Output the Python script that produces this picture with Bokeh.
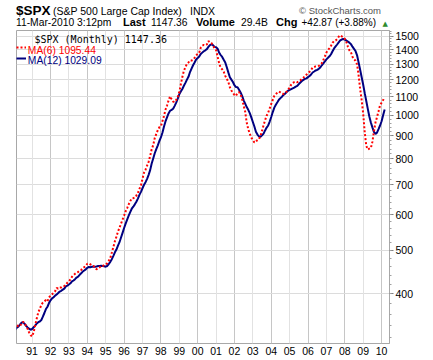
from bokeh.plotting import figure
from bokeh.layouts import column
from bokeh.models import (Range1d, FixedTicker, Grid, Label, Legend, LegendItem,
                          NumeralTickFormatter, Div)
from bokeh.embed import file_html
from bokeh.resources import INLINE

# ---- data: S&P 500 monthly moving averages, Jan 1990 .. Mar 2010 ----
start_year = 1990
ma6 = [
    344.9, 341.7, 340.1, 338.5, 341.1, 341.8, 346.3, 344.8, 339.2, 334.7, 328.2, 323.6,
    321.5, 328.9, 340.4, 352.3, 363.6, 370.4, 377.7, 382.5, 384.6, 387.4, 385.0, 392.7,
    396.2, 399.0, 401.7, 405.4, 412.1, 410.6, 413.2, 413.4, 415.8, 416.4, 419.0, 423.6,
    426.1, 431.0, 436.6, 440.2, 443.3, 445.9, 447.4, 450.8, 452.0, 456.6, 458.5, 461.1,
    466.7, 467.3, 465.1, 462.3, 461.4, 457.7, 453.8, 455.2, 458.0, 461.6, 461.2, 463.7,
    465.7, 467.7, 474.0, 481.0, 494.3, 508.6, 523.9, 536.3, 550.2, 561.4, 573.4, 585.2,
    597.5, 610.6, 620.8, 632.9, 643.5, 652.6, 653.3, 655.2, 662.2, 670.7, 685.4, 697.1,
    721.4, 744.6, 756.2, 772.2, 787.4, 811.5, 839.5, 857.6, 889.3, 908.2, 926.0, 940.3,
    944.6, 969.6, 995.3, 1028.2, 1050.7, 1078.0, 1101.4, 1086.0, 1071.9, 1069.7, 1081.9, 1097.8,
    1124.2, 1171.1, 1216.0, 1255.4, 1278.4, 1302.3, 1310.5, 1324.2, 1323.6, 1328.2, 1342.7, 1358.8,
    1369.8, 1377.5, 1413.5, 1428.4, 1433.6, 1431.2, 1437.2, 1462.5, 1452.1, 1448.3, 1430.7, 1408.3,
    1397.5, 1351.2, 1305.2, 1275.2, 1265.3, 1249.3, 1223.5, 1205.8, 1185.9, 1154.3, 1134.9, 1122.2,
    1108.7, 1104.2, 1122.0, 1124.8, 1112.7, 1086.4, 1049.9, 1018.2, 962.8, 931.0, 909.2, 890.8,
    881.5, 869.0, 874.5, 879.7, 884.2, 900.0, 922.5, 950.3, 974.9, 997.2, 1013.0, 1035.9,
    1059.3, 1082.1, 1103.8, 1113.3, 1123.7, 1128.5, 1123.6, 1116.8, 1114.9, 1118.7, 1127.6, 1139.4,
    1152.7, 1169.2, 1180.2, 1184.7, 1187.6, 1184.2, 1193.0, 1195.8, 1203.8, 1212.2, 1221.9, 1231.4,
    1239.0, 1249.1, 1260.1, 1277.3, 1280.8, 1284.4, 1283.9, 1287.7, 1294.6, 1305.8, 1327.5, 1352.2,
    1379.1, 1396.3, 1410.5, 1427.9, 1449.5, 1463.7, 1466.6, 1477.8, 1495.4, 1506.6, 1498.3, 1492.5,
    1479.7, 1455.8, 1421.8, 1394.5, 1381.1, 1349.7, 1331.1, 1323.2, 1297.1, 1227.6, 1143.6, 1080.8,
    1007.2, 916.0, 854.5, 838.5, 842.4, 845.0, 872.0, 919.5, 962.7, 990.0, 1019.4, 1052.0,
    1066.4, 1080.4, 1095.5,
]
ma12 = [
    329.0, 332.6, 336.3, 338.1, 341.5, 344.8, 345.6, 343.2, 339.6, 336.6, 334.6, 332.7,
    333.9, 336.9, 339.8, 343.5, 345.9, 347.0, 349.6, 355.7, 362.5, 369.9, 374.3, 381.5,
    386.9, 390.7, 393.1, 396.4, 398.6, 401.6, 404.7, 406.2, 408.7, 410.9, 415.6, 417.1,
    419.6, 422.2, 426.2, 428.3, 431.2, 434.8, 436.8, 440.9, 444.3, 448.4, 450.9, 453.5,
    457.1, 459.0, 458.6, 459.4, 460.0, 459.4, 460.3, 461.3, 461.6, 462.0, 461.3, 460.7,
    459.7, 461.4, 466.0, 471.3, 477.7, 486.1, 494.8, 502.0, 512.1, 521.2, 533.8, 546.9,
    560.7, 573.4, 585.5, 597.1, 608.4, 618.9, 625.4, 632.9, 641.5, 651.8, 664.4, 674.8,
    687.4, 699.9, 709.2, 721.5, 736.4, 754.3, 780.5, 801.1, 822.7, 840.2, 856.7, 875.9,
    892.0, 913.6, 942.3, 968.2, 988.4, 1009.1, 1023.0, 1027.8, 1033.6, 1048.9, 1066.3, 1087.9,
    1112.8, 1128.6, 1143.9, 1162.6, 1180.1, 1200.0, 1217.4, 1247.6, 1269.8, 1291.8, 1310.6, 1330.6,
    1340.2, 1350.8, 1368.5, 1378.3, 1388.2, 1395.0, 1403.5, 1420.0, 1432.8, 1438.3, 1432.2, 1419.7,
    1417.4, 1406.8, 1378.6, 1361.7, 1348.0, 1328.8, 1310.5, 1278.5, 1245.5, 1214.7, 1200.1, 1185.8,
    1166.1, 1155.0, 1153.9, 1139.5, 1123.8, 1104.3, 1079.3, 1061.2, 1042.4, 1027.9, 1010.9, 988.6,
    965.7, 943.6, 918.7, 905.3, 896.7, 895.4, 902.0, 909.6, 924.7, 938.4, 948.6, 967.9,
    990.9, 1016.2, 1039.4, 1055.2, 1068.3, 1082.2, 1091.5, 1099.5, 1109.4, 1116.0, 1125.6, 1134.0,
    1138.1, 1143.0, 1147.6, 1151.7, 1157.6, 1161.8, 1172.8, 1182.5, 1192.0, 1198.4, 1204.7, 1207.8,
    1216.0, 1222.4, 1232.0, 1244.8, 1251.3, 1257.9, 1261.4, 1268.4, 1277.3, 1291.6, 1304.1, 1318.3,
    1331.5, 1342.0, 1352.5, 1366.8, 1388.5, 1408.0, 1422.8, 1437.0, 1452.9, 1467.2, 1473.9, 1478.1,
    1473.1, 1466.8, 1458.6, 1450.5, 1439.7, 1421.1, 1405.4, 1389.5, 1359.5, 1311.1, 1262.3, 1215.2,
    1169.2, 1119.6, 1075.8, 1033.1, 993.0, 962.9, 939.6, 917.7, 908.6, 914.3, 930.9, 948.5,
    969.2, 1000.0, 1029.1,
]
year_ticks = list(range(1991, 2011))
year_labels = ["91", "92", "93", "94", "95", "96", "97", "98", "99", "00",
               "01", "02", "03", "04", "05", "06", "07", "08", "09", "10"]
price_ticks = [400, 500, 600, 700, 800, 900, 1000, 1100, 1200, 1300, 1400, 1500]

months = [start_year + i / 12 for i in range(len(ma6))]

FONT = "Liberation Sans"
GRAY = "#a8a8a8"
HEADER_H = 30

# ---------------- header strip (HTML text) ----------------
def span(left, baseline, text, size, bold=False, color="#000", font=FONT, right=None):
    top = baseline - 0.85 * size
    pos = f"right:{right}px;" if right is not None else f"left:{left}px;"
    weight = "bold" if bold else "normal"
    return (f'<span style="position:absolute;{pos}top:{top:.1f}px;font-size:{size}px;'
            f'font-weight:{weight};color:{color};font-family:\'{font}\';line-height:1;'
            f'white-space:nowrap;">{text}</span>')


header_html = (
    f'<div style="position:relative;width:425px;height:{HEADER_H}px;overflow:visible;">'
    + span(16, 15, "$SPX", 13.5, bold=True)
    + span(53, 15, "(S&amp;P 500 Large Cap Index)", 10.5)
    + span(190, 15, "INDX", 10.5)
    + span(0, 14.5, "&copy; StockCharts.com", 9.5, color="#555555", right=44)
    + span(16, 26.5, "11-Mar-2010 3:12pm", 10.3)
    + span(123, 26.5, "Last", 11, bold=True)
    + span(151, 26.5, "1147.36", 10.3)
    + span(196, 26.5, "Volume", 11, bold=True)
    + span(241, 26.5, "29.4B", 10.3)
    + span(276, 26.5, "Chg", 11, bold=True)
    + span(301.5, 26.5, "+42.87 (+3.88%)", 10)
    + span(382.5, 26.5, "&#9650;", 7, color="#2e8b2e", font="DejaVu Sans")
    + '</div>'
)
hdr = Div(text=header_html, width=425, height=HEADER_H, margin=0, disable_math=True)

# ---------------- main chart ----------------
p = figure(frame_width=373, frame_height=313, title=None,
           x_range=Range1d(1990.15, 2010.43), y_range=Range1d(310, 1544),
           y_axis_type="log", y_axis_location="right",
           output_backend="svg", toolbar_location=None,
           min_border_left=16, min_border_top=0, min_border_right=34,
           min_border_bottom=0, margin=0)
p.background_fill_color = "white"
p.border_fill_color = "white"
p.outline_line_color = GRAY
p.outline_line_width = 1

# grids
p.ygrid.ticker = FixedTicker(ticks=price_ticks)
p.ygrid.grid_line_color = "#dcdcdc"
p.xgrid.ticker = FixedTicker(ticks=[y for y in year_ticks if y % 2 == 0])
p.xgrid.grid_line_color = "#c6c6c6"
odd_grid = Grid(dimension=0, ticker=FixedTicker(ticks=[y for y in year_ticks if y % 2 == 1]),
                grid_line_color="#e2e2e2")
p.add_layout(odd_grid)

# x axis
p.xaxis.ticker = FixedTicker(ticks=year_ticks)
p.xaxis.major_label_overrides = dict(zip(year_ticks, year_labels))
p.xaxis.axis_line_color = None
p.xaxis.major_tick_out = 0
p.xaxis.major_tick_in = 0
p.xaxis.minor_tick_out = 0
p.xaxis.major_label_standoff = 3
p.xaxis.major_label_text_font = FONT
p.xaxis.major_label_text_font_size = "10.5px"
p.xaxis.major_label_text_color = "#000000"

# y axis (right, log)
p.yaxis.ticker = FixedTicker(ticks=price_ticks, minor_ticks=list(range(320, 1541, 20)))
p.yaxis.formatter = NumeralTickFormatter(format="0")
p.yaxis.axis_line_color = GRAY
p.yaxis.major_tick_out = 4
p.yaxis.major_tick_in = 0
p.yaxis.minor_tick_out = 2
p.yaxis.minor_tick_in = 0
p.yaxis.major_tick_line_color = "#808080"
p.yaxis.minor_tick_line_color = "#a0a0a0"
p.yaxis.major_label_standoff = 2
p.yaxis.major_label_text_font = FONT
p.yaxis.major_label_text_font_size = "10.5px"
p.yaxis.major_label_text_color = "#000000"

# series
r12 = p.line(months, ma12, line_color="#000080", line_width=2)
r6 = p.line(months, ma6, line_color="#ff0000", line_width=2, line_dash="2 2")

# legend line samples (labels drawn separately so each keeps its own colour/size)
for rend, loc in [(r6, (0, 291)), (r12, (0, 280))]:
    leg = Legend(items=[LegendItem(label=" ", renderers=[rend])], location=loc,
                 padding=0, margin=0, spacing=0, border_line_alpha=0,
                 background_fill_alpha=0, glyph_width=10, glyph_height=10,
                 label_height=10, label_standoff=0,
                 label_text_font=FONT, label_text_font_size="10px")
    p.add_layout(leg)

for text, color, ybase in [("MA(6) 1095.44", "#ff0000", 293.5),
                           ("MA(12) 1029.09", "#000080", 283)]:
    p.add_layout(Label(x=11.3, y=ybase, x_units="screen", y_units="screen",
                       text=text, text_font=FONT, text_font_size="10.3px",
                       text_color=color, text_baseline="alphabetic"))

p.add_layout(Label(x=18, y=304, x_units="screen", y_units="screen",
                   text="$SPX (Monthly) 1147.36", text_font="DejaVu Sans Mono",
                   text_font_size="10px", text_color="#000000",
                   text_baseline="alphabetic"))

layout = column(hdr, p, spacing=0, margin=0)
open("out.html", "w").write(file_html(layout, INLINE))
